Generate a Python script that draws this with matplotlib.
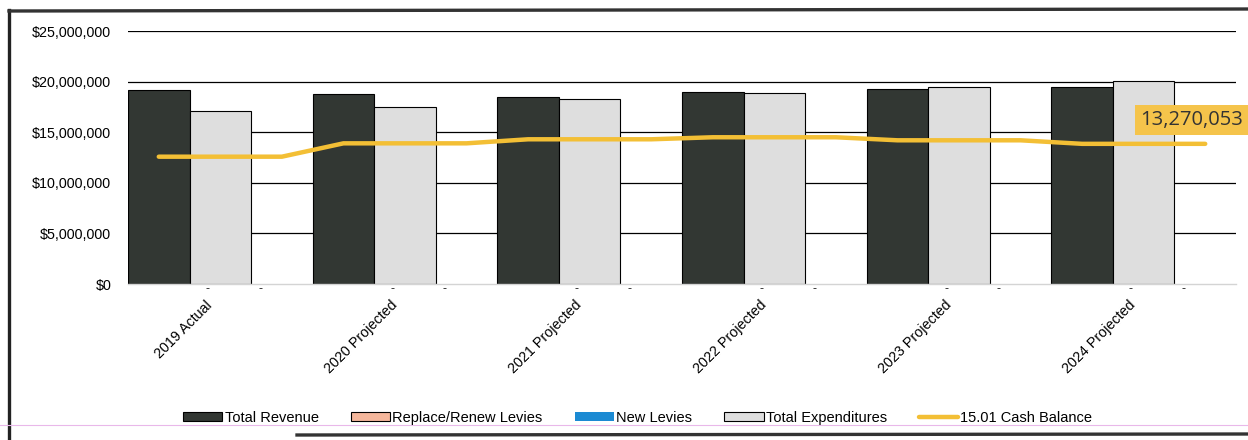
import numpy as np
import matplotlib.pyplot as plt
import matplotlib.transforms as mtransforms
from matplotlib.lines import Line2D
from matplotlib.ticker import StrMethodFormatter

# data
years = ['2019 Actual', '2020 Projected', '2021 Projected', '2022 Projected', '2023 Projected', '2024 Projected']
total_revenue = [19170000, 18770000, 18480000, 18970000, 19240000, 19440000]
total_expenditures = [17120000, 17520000, 18280000, 18870000, 19500000, 20090000]
replace_renew_levies = [0, 0, 0, 0, 0, 0]
new_levies = [0, 0, 0, 0, 0, 0]
cash_balance = [12580000, 13900000, 14300000, 14500000, 14200000, 13850000]
cash_label = 13270053

plt.rcParams['font.family'] = ['Liberation Sans', 'DejaVu Sans']

fig = plt.figure(figsize=(12.48, 4.4), dpi=100)
ax = fig.add_axes([128 / 1248, 1 - 284 / 440, (1236 - 128) / 1248, (284 - 31) / 440])

x = np.arange(len(years))
w = 1 / 3

b_rev = ax.bar(x - w, total_revenue, w, color='#323733', edgecolor='black', linewidth=0.8,
               label='Total Revenue', zorder=2)
b_rr = ax.bar(x - 0.07, replace_renew_levies, 0.05, color='#f5b79c', edgecolor='black', linewidth=0.8,
              label='Replace/Renew Levies', zorder=2)
b_nl = ax.bar(x + 0.215, new_levies, 0.05, color='#1b8ad3', linewidth=0,
              label='New Levies', zorder=2)
b_exp = ax.bar(x, total_expenditures, w, color='#dedede', edgecolor='black', linewidth=0.8,
               label='Total Expenditures', zorder=2)

# "-" labels for the zero series
for cont in (b_rr, b_nl):
    for rect in cont:
        ax.annotate('-', (rect.get_x() + rect.get_width() / 2, rect.get_height()),
                    xytext=(0, -4), textcoords='offset points', ha='center', va='center',
                    fontsize=9, color='#222222')

# cash balance line held flat across each year group
lx = np.ravel([[i - w, i + w] for i in x])
ly = np.repeat(cash_balance, 2)
ln, = ax.plot(lx, ly, color='#f3bf35', linewidth=3.2, solid_capstyle='round', zorder=3,
              label='15.01 Cash Balance')

ax.annotate(f'{cash_label:,}', (lx[-1], ly[-1]), xytext=(-10, 17), textcoords='offset points',
            ha='center', va='center', fontsize=14.5, family=['Open Sans', 'DejaVu Sans'], color='#333333',
            bbox=dict(boxstyle='square,pad=0.25', fc='#f5c44b', ec='none'), zorder=4,
            annotation_clip=False)

ax.set_xlim(-0.5, len(years) - 0.5)
ax.set_ylim(0, 25000000)
ax.set_yticks(np.arange(0, 25000001, 5000000))
ax.yaxis.set_major_formatter(StrMethodFormatter('${x:,.0f}'))
ax.tick_params(axis='y', length=0, pad=12, labelsize=10.3)
ax.set_xticks(x)
ax.set_xticklabels(years, rotation=45, ha='right', rotation_mode='anchor', fontsize=10.3)
ax.tick_params(axis='x', length=0, pad=10)
shift = mtransforms.ScaledTranslation(-15 / 100, 0, fig.dpi_scale_trans)
for lab in ax.get_xticklabels():
    lab.set_transform(lab.get_transform() + shift)

ax.grid(axis='y', color='black', linewidth=0.9, zorder=0)
ax.set_axisbelow(True)
ax.get_ygridlines()[0].set_visible(False)
for s in ('top', 'right', 'left'):
    ax.spines[s].set_visible(False)
ax.spines['bottom'].set_color('#d4d4d4')
ax.spines['bottom'].set_linewidth(1)

fig.legend(handles=[b_rev, b_rr, b_nl, b_exp, ln], loc='center', bbox_to_anchor=(0.511, 0.05),
           ncol=5, frameon=False, fontsize=10.5, handlelength=2.7, handleheight=0.55,
           handletextpad=0.15, columnspacing=2.2)

# scanned page frame
fig.add_artist(Line2D([9 / 1248, 9 / 1248], [0, 1 - 10 / 440], color='#222222', linewidth=2.4))
fig.add_artist(Line2D([9 / 1248, 1], [1 - 11 / 440, 1 - 9 / 440], color='#333333', linewidth=2.4))
fig.add_artist(Line2D([297 / 1248, 1], [1 - 435 / 440, 1 - 434 / 440], color='#333333', linewidth=2.4))
fig.add_artist(Line2D([0, 1], [1 - 425 / 440, 1 - 425 / 440], color='#e9b8ea', linewidth=0.8))

fig.savefig('out.png', dpi=100)
